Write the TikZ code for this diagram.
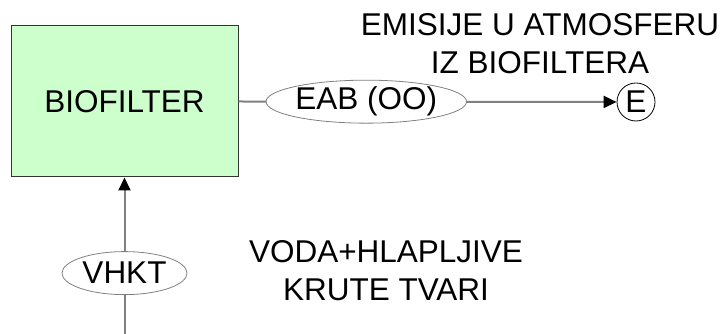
\documentclass[tikz,border=0pt]{standalone}
\usepackage{fontspec}
\setmainfont{Liberation Sans}
\usepackage{xcolor}
\usetikzlibrary{arrows.meta, positioning, shapes.geometric}
\definecolor{filtergreen}{HTML}{CCFFCC}
\definecolor{flowgray}{HTML}{808080}

\begin{document}
\begin{tikzpicture}[
        x=1pt, y=1pt,
        every node/.style={font=\fontsize{31.5}{38}\selectfont},
        unit/.style={rectangle, draw=black!80, line width=1pt, fill=filtergreen, minimum width=227pt, minimum height=151pt, inner sep=0pt},
        stream/.style={ellipse, draw, line width=0.8pt, fill=white, minimum width=#1, minimum height=43pt, inner sep=0pt},
        sink/.style={circle, draw, line width=0.8pt, fill=white, minimum size=38pt, inner sep=0pt},
        label/.style={align=center, inner sep=0pt},
        flow/.style={draw=flowgray, line width=2pt},
        arrow/.style={flow, -{Triangle[length=13pt, width=12pt, color=black]}}
    ]
        \useasboundingbox (0,0) rectangle (724,334);

        % Biofilter unit
        \node[unit] (biofilter) at (124.5,232.5) {BIOFILTER};

        % Emission to atmosphere
        \node[sink] (emis) at (636,232) {E};
        \node[label] (emislabel) at (540,290.5) {EMISIJE U ATMOSFERU\\IZ BIOFILTERA};
        \draw[arrow] (biofilter.east) -- node[pos=0.338, stream=181pt] (eab) {EAB (OO)} (emis);

        % Inlet stream
        \coordinate (inlet) at (124.5,0);
        \node[label] (inletlabel) at (386,63) {VODA+HLAPLJIVE\\KRUTE TVARI};
        \draw[arrow] (inlet) -- node[pos=0.389, stream=125pt] (vhkt) {VHKT} (biofilter);
    \end{tikzpicture}
\end{document}
